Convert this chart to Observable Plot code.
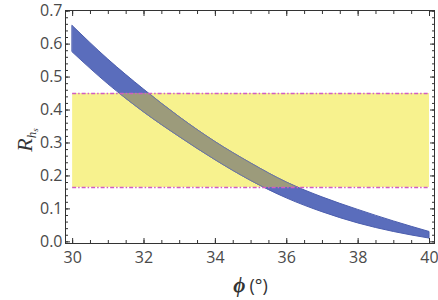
<!DOCTYPE html>
<html>
<head>
<meta charset="utf-8">
<script src="https://cdn.jsdelivr.net/npm/d3@7"></script>
<script src="https://cdn.jsdelivr.net/npm/@observablehq/plot@0.6"></script>
<style>
  html, body { margin: 0; padding: 0; background: #fff; }
  #chart svg { display: block; }
</style>
</head>
<body>
<div id="chart"></div>
<script>
const phi   = [30, 31, 32, 33, 34, 35, 36, 37, 38, 39, 40];
const upper = [0.655, 0.553, 0.462, 0.378, 0.303, 0.238, 0.18, 0.135, 0.097, 0.062, 0.03];
const lower = [0.575, 0.478, 0.393, 0.318, 0.248, 0.185, 0.132, 0.09, 0.056, 0.03, 0.01];
const bandLow = 0.165, bandHigh = 0.45;
const xMajor = [30, 32, 34, 36, 38, 40];
const yMajor = [0, 0.1, 0.2, 0.3, 0.4, 0.5, 0.6, 0.7];
const xMinor = d3.range(30, 40.01, 0.5);
const yMinor = d3.range(0, 0.701, 0.02);

const data = phi.map((p, i) => ({phi: p, lo: lower[i], hi: upper[i]}));
const tickColor = "#4a4a4a";
const fontFam = "'Open Sans', 'DejaVu Sans', sans-serif";
const noText = () => "";

const chart = Plot.plot({
  width: 438,
  height: 300,
  marginLeft: 65,
  marginRight: 4,
  marginTop: 10,
  marginBottom: 57,
  style: {fontFamily: fontFam, fontSize: "16px", color: tickColor, background: "#fff"},
  x: {domain: [29.8, 40.14]},
  y: {domain: [-0.005, 0.702]},
  marks: [
    Plot.rect([{x1: 30, x2: 40, y1: bandLow, y2: bandHigh}], {x1: "x1", x2: "x2", y1: "y1", y2: "y2", fill: "#f7f28e"}),
    Plot.areaY(data, {x: "phi", y1: "lo", y2: "hi", fill: "#5a6dbc", stroke: "#4c5eae", strokeWidth: 1, curve: "monotone-x"}),
    Plot.areaY(data, {x: "phi", y1: "lo", y2: "hi", fill: "#9c9b7b", stroke: "#6f77a0", strokeWidth: 0.8, curve: "monotone-x", className: "overlap"}),
    Plot.ruleY([bandLow, bandHigh], {x1: 30, x2: 40, stroke: "#d05cc4", strokeWidth: 1.6, strokeDasharray: "4,2,1.5,2"}),
    Plot.frame({stroke: "#333", strokeWidth: 1}),
    // tick labels
    Plot.axisX({anchor: "bottom", ticks: xMajor, tickSize: 0, tickPadding: 8, tickFormat: d => d, fontSize: 16, label: null}),
    Plot.axisY({anchor: "left", ticks: yMajor, tickSize: 0, tickPadding: 3, tickFormat: d3.format(".1f"), label: null, fontSize: 16}),
    // inward tick marks
    Plot.axisX({anchor: "bottom", ticks: xMajor, tickSize: 5, dy: -5, tickFormat: noText, label: null, stroke: "#333"}),
    Plot.axisX({anchor: "bottom", ticks: xMinor, tickSize: 3, dy: -3, tickFormat: noText, label: null, stroke: "#333"}),
    Plot.axisX({anchor: "top", ticks: xMajor, tickSize: 5, dy: 5, tickFormat: noText, label: null, stroke: "#333"}),
    Plot.axisX({anchor: "top", ticks: xMinor, tickSize: 3, dy: 3, tickFormat: noText, label: null, stroke: "#333"}),
    Plot.axisY({anchor: "left", ticks: yMajor, tickSize: 5, dx: 5, tickFormat: noText, label: null, stroke: "#333"}),
    Plot.axisY({anchor: "left", ticks: yMinor, tickSize: 3, dx: 3, tickFormat: noText, label: null, stroke: "#333"}),
    Plot.axisY({anchor: "right", ticks: yMajor, tickSize: 5, dx: -5, tickFormat: noText, label: null, stroke: "#333"}),
    Plot.axisY({anchor: "right", ticks: yMinor, tickSize: 3, dx: -3, tickFormat: noText, label: null, stroke: "#333"})
  ]
});

// clip the overlap area to the yellow band using the chart's own scales
const ns = "http://www.w3.org/2000/svg";
const xs = chart.scale("x"), ys = chart.scale("y");
const defs = document.createElementNS(ns, "defs");
const cp = document.createElementNS(ns, "clipPath");
cp.setAttribute("id", "bandclip");
const r = document.createElementNS(ns, "rect");
const yTop = ys.apply(bandHigh), yBot = ys.apply(bandLow);
r.setAttribute("x", xs.apply(30) - 2);
r.setAttribute("width", xs.apply(40) - xs.apply(30) + 4);
r.setAttribute("y", yTop);
r.setAttribute("height", yBot - yTop);
cp.appendChild(r);
defs.appendChild(cp);
chart.insertBefore(defs, chart.firstChild);
const ov = chart.querySelector(".overlap");
if (ov) ov.setAttribute("clip-path", "url(#bandclip)");

// axis titles
const ylab = document.createElementNS(ns, "text");
ylab.setAttribute("transform", `translate(32,${ys.apply(0.35) + 14}) rotate(-90)`);
ylab.setAttribute("font-family", "'Liberation Serif', 'DejaVu Serif', serif");
ylab.setAttribute("fill", "#333");
ylab.innerHTML = `<tspan font-size="22" font-style="italic">R</tspan><tspan font-size="13" font-style="italic" dy="4">h</tspan><tspan font-size="9" font-style="italic" dy="2">s</tspan>`;
chart.appendChild(ylab);

const xlab = document.createElementNS(ns, "text");
xlab.setAttribute("x", (xs.apply(30) + xs.apply(40)) / 2);
xlab.setAttribute("y", 292);
xlab.setAttribute("text-anchor", "middle");
xlab.setAttribute("fill", "#333");
xlab.setAttribute("font-size", "18");
xlab.innerHTML = `<tspan font-family="'Liberation Serif', 'DejaVu Serif', serif" font-style="italic" font-weight="bold" font-size="21">ϕ</tspan><tspan font-family="${fontFam.replace(/'/g, "&quot;")}" dx="4">(°)</tspan>`;
chart.appendChild(xlab);

document.getElementById("chart").appendChild(chart);
</script>
</body>
</html>
